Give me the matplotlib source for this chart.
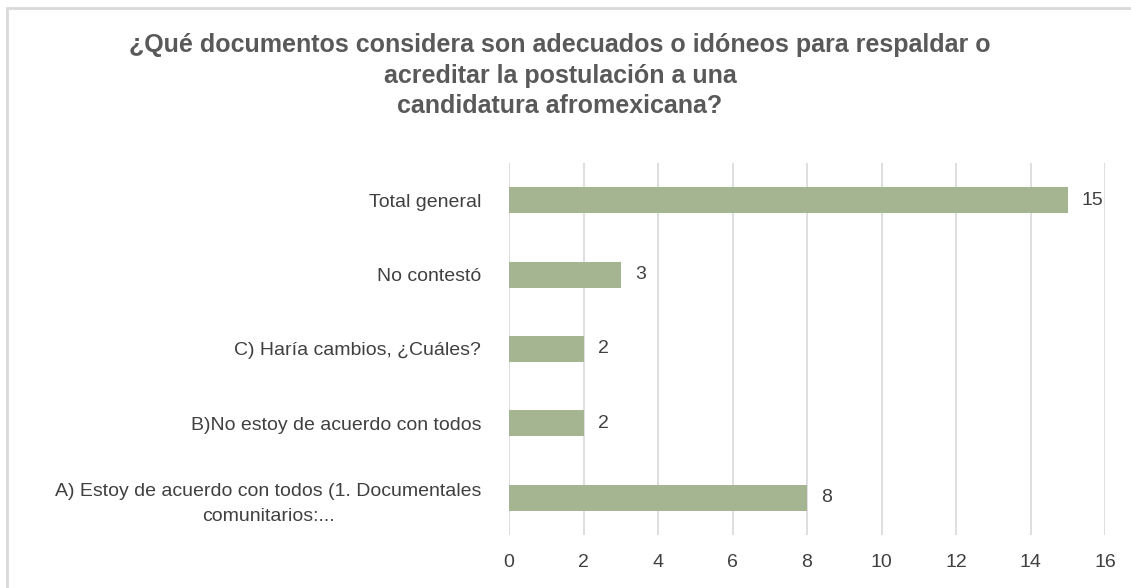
import matplotlib.pyplot as plt
from matplotlib.patches import Rectangle

categories = [
    "A) Estoy de acuerdo con todos (1. Documentales\ncomunitarios:...",
    "B)No estoy de acuerdo con todos",
    "C) Haría cambios, ¿Cuáles?",
    "No contestó",
    "Total general",
]
values = [8, 2, 2, 3, 15]
x_ticks = [0, 2, 4, 6, 8, 10, 12, 14, 16]
title = ("¿Qué documentos considera son adecuados o idóneos para respaldar o\n"
         "acreditar la postulación a una\ncandidatura afromexicana?")

plt.rcParams['font.family'] = ['Liberation Sans', 'DejaVu Sans']

W, H = 1131, 588
fig = plt.figure(figsize=(W / 100, H / 100), dpi=100)
ax = fig.add_axes([509 / W, 1 - 535 / H, (1105 - 509) / W, (535 - 163) / H])

y = list(range(len(categories)))
ax.barh(y, values, height=0.35, color='#A5B592', zorder=3)
for yi, v in zip(y, values):
    ax.text(v + 0.38, yi, str(v), va='center', ha='left', fontsize=14, color='#404040')

ax.set_xlim(0, 16)
ax.set_ylim(-0.5, 4.5)
ax.set_xticks(x_ticks)
ax.set_yticks(y)
ax.set_yticklabels(categories, fontsize=14, color='#404040', ha='right',
                   multialignment='center', linespacing=1.6)
ax.tick_params(axis='y', length=0, pad=20)
ax.tick_params(axis='x', length=0, pad=14, labelsize=14, labelcolor='#404040')
ax.grid(axis='x', color='#D9D9D9', lw=1.2, zorder=0)
for s in ax.spines.values():
    s.set_visible(False)

fig.text(560 / W, 1 - 33 / H, title, ha='center', va='top', fontsize=18,
         fontweight='bold', color='#595959', linespacing=1.35)
fig.patches.append(Rectangle((7 / W, -0.1), 1.2, 1 - 8 / H + 0.1, transform=fig.transFigure,
                             fill=False, edgecolor='#D9D9D9', lw=2))

fig.savefig('out.png', dpi=100)
